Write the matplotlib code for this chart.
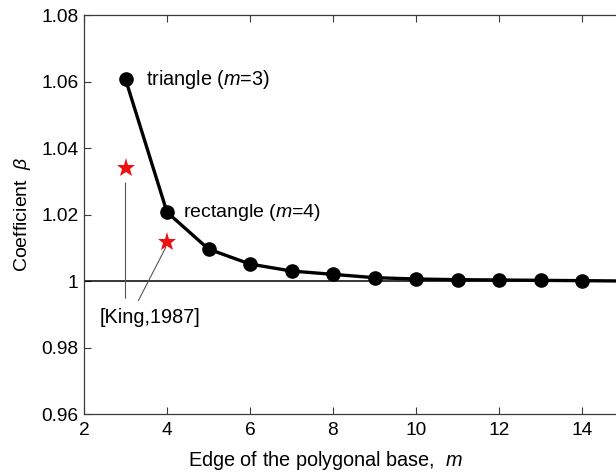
import matplotlib
matplotlib.use("Agg")
import matplotlib.pyplot as plt

plt.rcParams['font.family'] = ['Liberation Sans', 'DejaVu Sans']
plt.rcParams['mathtext.fontset'] = 'custom'
plt.rcParams['mathtext.rm'] = 'Liberation Sans'
plt.rcParams['mathtext.it'] = 'Liberation Sans:italic'

# Coefficient beta versus number of edges m of the polygonal base
m_edges = [3, 4, 5, 6, 7, 8, 9, 10, 11, 12, 13, 14, 15]
beta = [1.0607, 1.0207, 1.0096, 1.0051, 1.0030, 1.0020, 1.0010, 1.0006,
        1.0004, 1.0003, 1.0002, 1.0001, 1.0000]

# Reference values [King, 1987]
king_m = [3, 4]
king_beta = [1.0339, 1.0118]

x_range = [2, 16]
x_ticks = [2, 4, 6, 8, 10, 12, 14]
y_ticks = [0.96, 0.98, 1.00, 1.02, 1.04, 1.06, 1.08]
y_ticklabels = ['0.96', '0.98', '1', '1.02', '1.04', '1.06', '1.08']

W, H = 616, 472
fig = plt.figure(figsize=(W / 100, H / 100), dpi=100)
ax_left, ax_bottom, ax_top = 84, 414, 15
px_per_unit = 41.5
ax_w = (x_range[1] - x_range[0]) * px_per_unit
ax = fig.add_axes([ax_left / W, (H - ax_bottom) / H, ax_w / W, (ax_bottom - ax_top) / H])

spine_c = '#3a3a3a'
ax.axhline(1.0, color='black', lw=1.1, zorder=2)
ax.plot(m_edges, beta, color='black', lw=2.4, marker='o', ms=9.5, zorder=3, clip_on=False)
ax.plot(king_m, king_beta, linestyle='none', marker='*', ms=14, color='#ee1111',
        markeredgewidth=0, zorder=4)

ax.annotate('triangle ($m$=3)', xy=(m_edges[0], beta[0]), xytext=(20, 0),
            textcoords='offset pixels', ha='left', va='center', fontsize=14.3)
ax.annotate('rectangle ($m$=4)', xy=(m_edges[1], beta[1]), xytext=(16, 0),
            textcoords='offset pixels', ha='left', va='center', fontsize=14)

# leader lines from the reference points to their citation
ax.annotate('', xy=(3.0, 1.0295), xytext=(3.0, 0.9948),
            arrowprops=dict(arrowstyle='-', color='#555555', lw=0.8, shrinkA=0, shrinkB=0))
ax.annotate('', xy=(3.97, 1.0101), xytext=(3.31, 0.9941),
            arrowprops=dict(arrowstyle='-', color='#555555', lw=0.8, shrinkA=0, shrinkB=0))
ax.text(3.59, 0.9889, '[King,1987]', ha='center', va='center', fontsize=14.3)

ax.set_xlim(*x_range)
ax.set_ylim(y_ticks[0], y_ticks[-1])
ax.set_xticks(x_ticks)
ax.set_yticks(y_ticks)
ax.set_yticklabels(y_ticklabels)
ax.tick_params(direction='in', length=5, width=0.8, color=spine_c, labelsize=13.8,
               top=True, right=True)
ax.tick_params(axis='x', pad=6)
ax.tick_params(axis='y', pad=4)
for s in ax.spines.values():
    s.set_color(spine_c)
    s.set_linewidth(0.9)

ax.set_ylabel(r'Coefficient  $\beta$', fontsize=14, labelpad=6)
ax.set_xlabel(r'Edge of the polygonal base,  $m$', fontsize=14.3)
ax.xaxis.set_label_coords((326 - ax_left) / ax_w, -(449 - ax_bottom) / (ax_bottom - ax_top))

fig.savefig('out.png', dpi=100)
